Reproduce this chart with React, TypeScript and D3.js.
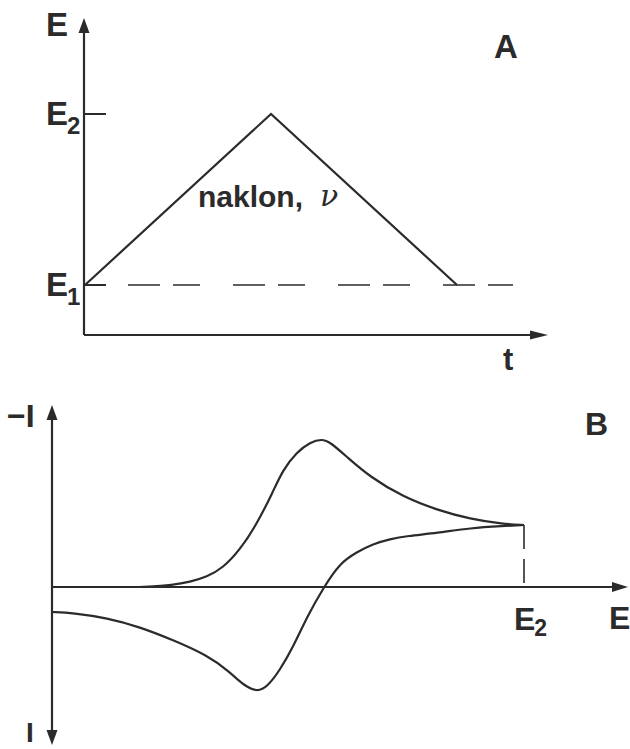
import React from "react";
import * as d3 from "d3";

// Panel A: triangular potential sweep E(t)
const sweepT = [0, 1, 2];
const sweepE = [0, 1, 0]; // 0 = E1, 1 = E2
const levelLabels = [
  { value: 0, base: "E", sub: "1" },
  { value: 1, base: "E", sub: "2" },
];

// Panel B: cyclic voltammogram, potential (0..100, 100 = E2) vs. -I
const forwardE = [18, 20, 25.6, 29.2, 32.8, 36.2, 39.8, 43.4, 46.8, 48.9, 51.9, 54.7, 57.2, 58.9, 62.5, 67.4, 74.4, 81.6, 88.6, 95.6, 100];
const forwardI = [0, 0, 0.2, 0.5, 1.0, 1.9, 3.7, 6.3, 9.5, 11.7, 13.5, 14.5, 14.8, 14.5, 13.0, 11.0, 9.0, 7.7, 6.8, 6.3, 6.2];
const reverseE = [100, 95.6, 88.6, 81.6, 75.2, 71.6, 68.0, 64.6, 61.0, 57.6, 54.0, 51.1, 48.3, 45.6, 43.4, 40.5, 37.7, 32.8, 25.6, 18.6, 11.7, 4.4, 0];
const reverseI = [6.2, 6.1, 5.9, 5.4, 5.1, 4.8, 4.3, 3.5, 2.4, 0, -3.0, -6.0, -8.3, -10.0, -10.5, -9.8, -8.5, -6.8, -5.3, -4.0, -3.1, -2.6, -2.5];
const switchE = 100;

const INK = "#2b2b2b";
const FONT = "'Liberation Sans', Arial, Helvetica, sans-serif";

function Arrow({ x, y, dir, len = 15, half = 5.5 }: { x: number; y: number; dir: "up" | "down" | "right"; len?: number; half?: number }) {
  let pts: [number, number][];
  if (dir === "up") pts = [[x, y], [x - half, y + len], [x + half, y + len]];
  else if (dir === "down") pts = [[x, y], [x - half, y - len], [x + half, y - len]];
  else pts = [[x, y], [x - len, y - half], [x - len, y + half]];
  return <path d={`M${pts.map((p) => p.join(",")).join("L")}Z`} fill={INK} />;
}

export default function App() {
  // ---- Panel A scales
  const xA = d3.scaleLinear().domain([0, 2]).range([85, 457]);
  const yA = d3.scaleLinear().domain([0, 1]).range([285, 114]);
  const axA = { x: 84, top: 18, bottom: 335, right: 548 };

  const sweepLine = d3
    .line<number>()
    .x((_, i) => xA(sweepT[i]))
    .y((d) => yA(d));

  // ---- Panel B scales
  const xB = d3.scaleLinear().domain([0, 100]).range([52, 524]);
  const yB = d3.scaleLinear().domain([0, 10]).range([587, 487]);
  const axB = { x: 52, top: 405, bottom: 745, right: 628 };

  const cv = d3
    .line<[number, number]>()
    .x((d) => xB(d[0]))
    .y((d) => yB(d[1]))
    .curve(d3.curveBasis);

  const fwd: [number, number][] = forwardE.map((e, i) => [e, forwardI[i]]);
  const rev: [number, number][] = reverseE.map((e, i) => [e, reverseI[i]]);
  const switchI = forwardI[forwardI.length - 1];

  const labelStyle = { fontFamily: FONT, fontWeight: 700, fill: INK } as const;

  return (
    <svg
      width={630}
      height={749}
      viewBox="0 0 630 749"
      style={{ position: "absolute", left: 0, top: 0, background: "#fff" }}
    >
      {/* ===== Panel A ===== */}
      <g>
        <line x1={axA.x} y1={axA.bottom} x2={axA.x} y2={axA.top + 10} stroke={INK} strokeWidth={2.2} />
        <Arrow x={axA.x} y={axA.top} dir="up" />
        <line x1={axA.x} y1={axA.bottom} x2={axA.right - 10} y2={axA.bottom} stroke={INK} strokeWidth={2.2} />
        <Arrow x={axA.right} y={axA.bottom} dir="right" len={18} half={4.5} />

        {/* level ticks and labels */}
        {levelLabels.map((l) => (
          <g key={l.sub}>
            <line x1={axA.x} x2={axA.x + 22} y1={yA(l.value)} y2={yA(l.value)} stroke={INK} strokeWidth={2} />
            <text x={46} y={yA(l.value) + 11} fontSize={33} {...labelStyle}>
              {l.base}
              <tspan fontSize={24} dy={9} dx={-1}>{l.sub}</tspan>
            </text>
          </g>
        ))}

        {/* E1 baseline continuation */}
        <line
          x1={128}
          x2={513}
          y1={yA(0)}
          y2={yA(0)}
          stroke={INK}
          strokeWidth={1.4}
          strokeDasharray="32,13,27,33"
        />

        <path d={sweepLine(sweepE) ?? ""} fill="none" stroke={INK} strokeWidth={2.2} strokeLinejoin="miter" />

        <text x={198} y={207} fontSize={30} {...labelStyle}>
          naklon,
        </text>
        <text x={320} y={206} fontSize={30} fontFamily="'DejaVu Serif', 'Liberation Serif', serif" fontStyle="italic" fill={INK}>
          ν
        </text>

        <text x={46} y={36} fontSize={33} {...labelStyle}>E</text>
        <text x={494} y={58} fontSize={33} {...labelStyle}>A</text>
        <text x={503} y={370} fontSize={31} {...labelStyle}>t</text>
      </g>

      {/* ===== Panel B ===== */}
      <g>
        <line x1={axB.x} y1={axB.top + 10} x2={axB.x} y2={axB.bottom - 10} stroke={INK} strokeWidth={2.2} />
        <Arrow x={axB.x} y={axB.top} dir="up" />
        <Arrow x={axB.x} y={axB.bottom} dir="down" />
        <line x1={axB.x} y1={yB(0)} x2={axB.right - 10} y2={yB(0)} stroke={INK} strokeWidth={2.2} />
        <Arrow x={axB.right} y={yB(0)} dir="right" len={16} half={5} />

        <line
          x1={xB(switchE)}
          x2={xB(switchE)}
          y1={yB(switchI)}
          y2={yB(0)}
          stroke={INK}
          strokeWidth={1.6}
          strokeDasharray="24,10"
        />

        <path d={cv(fwd) ?? ""} fill="none" stroke={INK} strokeWidth={2.2} />
        <path d={cv(rev) ?? ""} fill="none" stroke={INK} strokeWidth={2.2} />

        <text x={7} y={427} fontSize={32} {...labelStyle}>−I</text>
        <text x={26} y={742} fontSize={28} {...labelStyle}>I</text>
        <text x={585} y={435} fontSize={32} {...labelStyle}>B</text>
        <text x={xB(switchE) - 10} y={630} fontSize={32} {...labelStyle}>
          E<tspan fontSize={23} dy={6} dx={-1}>2</tspan>
        </text>
        <text x={609} y={629} fontSize={32} {...labelStyle}>E</text>
      </g>
    </svg>
  );
}
